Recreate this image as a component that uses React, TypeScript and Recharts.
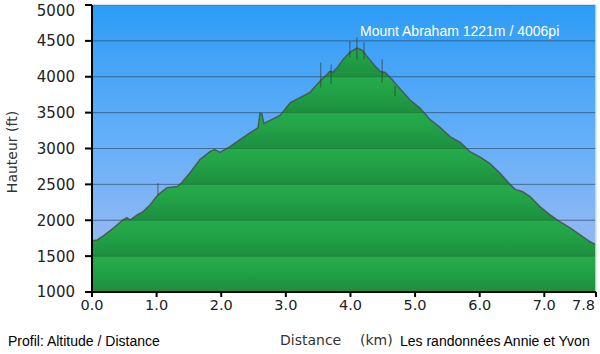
import React from "react";
import {
  ComposedChart,
  Area,
  XAxis,
  YAxis,
  CartesianGrid,
  ReferenceLine,
  Scatter,
  ErrorBar,
} from "recharts";

const distances = [
  0.0, 0.08, 0.17, 0.33, 0.48, 0.54, 0.59, 0.7, 0.79, 0.9, 0.98, 1.03, 1.16, 1.32, 1.39, 1.52, 1.67,
  1.83, 1.9, 1.98, 2.14, 2.29, 2.45, 2.57, 2.6, 2.63, 2.66, 2.91, 3.07, 3.22, 3.37, 3.42, 3.53, 3.64,
  3.68, 3.73, 3.79, 3.89, 3.99, 4.1, 4.18, 4.27, 4.38, 4.46, 4.54, 4.64, 4.77, 4.92, 5.08, 5.23, 5.39,
  5.54, 5.7, 5.85, 6.01, 6.16, 6.32, 6.47, 6.55, 6.66, 6.78, 6.93, 7.09, 7.24, 7.4, 7.55, 7.71, 7.8,
];
const altitudes = [
  1715, 1725, 1780, 1890, 2005, 2035, 2005, 2075, 2120, 2215, 2310, 2360, 2455, 2470, 2525, 2665, 2845,
  2960, 2985, 2945, 3030, 3125, 3220, 3290, 3490, 3480, 3350, 3460, 3640, 3710, 3780, 3830, 3940, 4035,
  4075, 4065, 4120, 4245, 4340, 4400, 4370, 4270, 4150, 4075, 4060, 3965, 3830, 3680, 3560, 3405, 3290,
  3165, 3085, 2955, 2880, 2790, 2650, 2500, 2430, 2400, 2330, 2190, 2075, 1980, 1895, 1800, 1700, 1660,
];

const spikeKm = [1.02, 3.54, 3.7, 3.99, 4.1, 4.21, 4.49, 4.69];
const spikeLow = [2355, 3850, 3900, 4270, 4245, 4245, 3920, 3730];
const spikeHigh = [2520, 4200, 4170, 4500, 4550, 4480, 4245, 3870];

const yTicks = [1000, 1500, 2000, 2500, 3000, 3500, 4000, 4500, 5000];
const xTicks = [0, 1, 2, 3, 4, 5, 6, 7, 7.8];

const title = "Mount Abraham 1221m / 4006pi";
const yLabel = "Hauteur (ft)";
const xLabel = "Distance";
const xUnit = "(km)";
const leftNote = "Profil: Altitude / Distance";
const rightNote = "Les randonnées Annie et Yvon";

const data = distances.map((km, i) => ({ km, alt: altitudes[i] }));
const spikes = spikeKm.map((km, i) => ({
  km,
  mid: (spikeLow[i] + spikeHigh[i]) / 2,
  err: (spikeHigh[i] - spikeLow[i]) / 2,
}));

const PLOT_TOP = 5;
const PLOT_BOTTOM = 292;
const tickFont = "'DejaVu Sans', Verdana, sans-serif";

const bandStops: React.ReactElement[] = [];
const nBands = yTicks.length - 1;
for (let b = 0; b < nBands; b++) {
  const o1 = b / nBands;
  const o2 = (b + 1) / nBands;
  bandStops.push(<stop key={"a" + b} offset={o1 + 0.002} stopColor="#25ab4b" />);
  bandStops.push(<stop key={"b" + b} offset={o1 + (o2 - o1) * 0.4} stopColor="#22a347" />);
  bandStops.push(<stop key={"c" + b} offset={o2 - 0.003} stopColor="#1d8f3e" />);
}

const YTick = (props: any) => {
  const { x, y, payload } = props;
  return (
    <text
      x={x}
      y={Math.max(y, 11)}
      dy="0.36em"
      textAnchor="end"
      fill="#222"
      fontSize={15}
      fontFamily={tickFont}
    >
      {payload.value}
    </text>
  );
};

const XTick = (props: any) => {
  const { x, y, payload, index } = props;
  const last = index === xTicks.length - 1;
  return (
    <text
      x={last ? x - 1 : x}
      y={y}
      dy="0.71em"
      textAnchor={last ? "end" : "middle"}
      fill="#222"
      fontSize={14.5}
      fontFamily={tickFont}
    >
      {Number(payload.value).toFixed(1)}
    </text>
  );
};

export default function App() {
  return (
    <div
      style={{
        position: "absolute",
        left: 0,
        top: 0,
        width: 600,
        height: 354,
        background: "#ffffff",
        fontFamily: "'Liberation Sans', Arial, sans-serif",
      }}
    >
      <ComposedChart
        width={600}
        height={354}
        data={data}
        margin={{ top: PLOT_TOP, right: 4, left: 0, bottom: 32 }}
      >
        <defs>
          <linearGradient id="sky" x1="0" y1="0" x2="0" y2="1">
            <stop offset="0" stopColor="#2d9cf6" />
            <stop offset="0.5" stopColor="#68b0f8" />
            <stop offset="1" stopColor="#aabcef" />
          </linearGradient>
          <linearGradient
            id="land"
            gradientUnits="userSpaceOnUse"
            x1="0"
            y1={PLOT_TOP}
            x2="0"
            y2={PLOT_BOTTOM}
          >
            {bandStops}
          </linearGradient>
        </defs>
        <CartesianGrid
          vertical={false}
          fill="url(#sky)"
          fillOpacity={1}
          stroke="rgba(40,60,100,0.35)"
        />
        <XAxis
          dataKey="km"
          type="number"
          domain={[0, 7.8]}
          ticks={xTicks}
          interval={0}
          axisLine={{ stroke: "#000", strokeWidth: 2 }}
          tickLine={{ stroke: "#000", strokeWidth: 2 }}
          tickSize={5}
          tickMargin={3}
          height={30}
          tick={<XTick />}
        />
        <YAxis
          type="number"
          domain={[1000, 5000]}
          ticks={yTicks}
          interval={0}
          width={92}
          axisLine={{ stroke: "#000", strokeWidth: 2 }}
          tickLine={{ stroke: "#000", strokeWidth: 2 }}
          tickSize={7}
          tickMargin={10}
          tick={<YTick />}
        />
        <Area
          type="linear"
          dataKey="alt"
          stroke="#4a4a4a"
          strokeOpacity={0.8}
          strokeWidth={1.5}
          fill="url(#land)"
          fillOpacity={1}
          isAnimationActive={false}
          dot={false}
          activeDot={false}
        />
        {yTicks.slice(1, -1).map((t) => (
          <ReferenceLine key={t} y={t} stroke="rgba(20,50,40,0.28)" strokeWidth={1} />
        ))}
        <ReferenceLine x={7.8} stroke="#c9efd2" strokeWidth={1.5} />
        <Scatter
          data={spikes}
          dataKey="mid"
          isAnimationActive={false}
          shape={() => <g />}
        >
          <ErrorBar
            dataKey="err"
            direction="y"
            width={0}
            stroke="rgba(50,50,50,0.55)"
            strokeWidth={1.2}
            isAnimationActive={false}
          />
        </Scatter>
      </ComposedChart>
      <div
        style={{
          position: "absolute",
          left: 360,
          top: 22,
          fontSize: 14,
          color: "#ffffff",
          whiteSpace: "nowrap",
          lineHeight: "18px",
        }}
      >
        {title}
      </div>
      <div
        style={{
          position: "absolute",
          left: 12,
          top: 152,
          transform: "translate(-50%, -50%) rotate(-90deg)",
          fontSize: 14,
          color: "#333",
          whiteSpace: "nowrap",
          fontFamily: tickFont,
        }}
      >
        {yLabel}
      </div>
      <div
        style={{
          position: "absolute",
          left: 8,
          top: 332,
          fontSize: 14,
          color: "#000",
          whiteSpace: "nowrap",
          lineHeight: "18px",
        }}
      >
        {leftNote}
      </div>
      <div
        style={{
          position: "absolute",
          left: 280,
          top: 331,
          fontSize: 14,
          color: "#333",
          whiteSpace: "nowrap",
          lineHeight: "18px",
          fontFamily: tickFont,
        }}
      >
        {xLabel}
      </div>
      <div
        style={{
          position: "absolute",
          left: 360,
          top: 331,
          fontSize: 14,
          color: "#333",
          whiteSpace: "nowrap",
          lineHeight: "18px",
          fontFamily: tickFont,
        }}
      >
        {xUnit}
      </div>
      <div
        style={{
          position: "absolute",
          left: 400,
          top: 332,
          fontSize: 14,
          color: "#000",
          whiteSpace: "nowrap",
          lineHeight: "18px",
        }}
      >
        {rightNote}
      </div>
    </div>
  );
}
